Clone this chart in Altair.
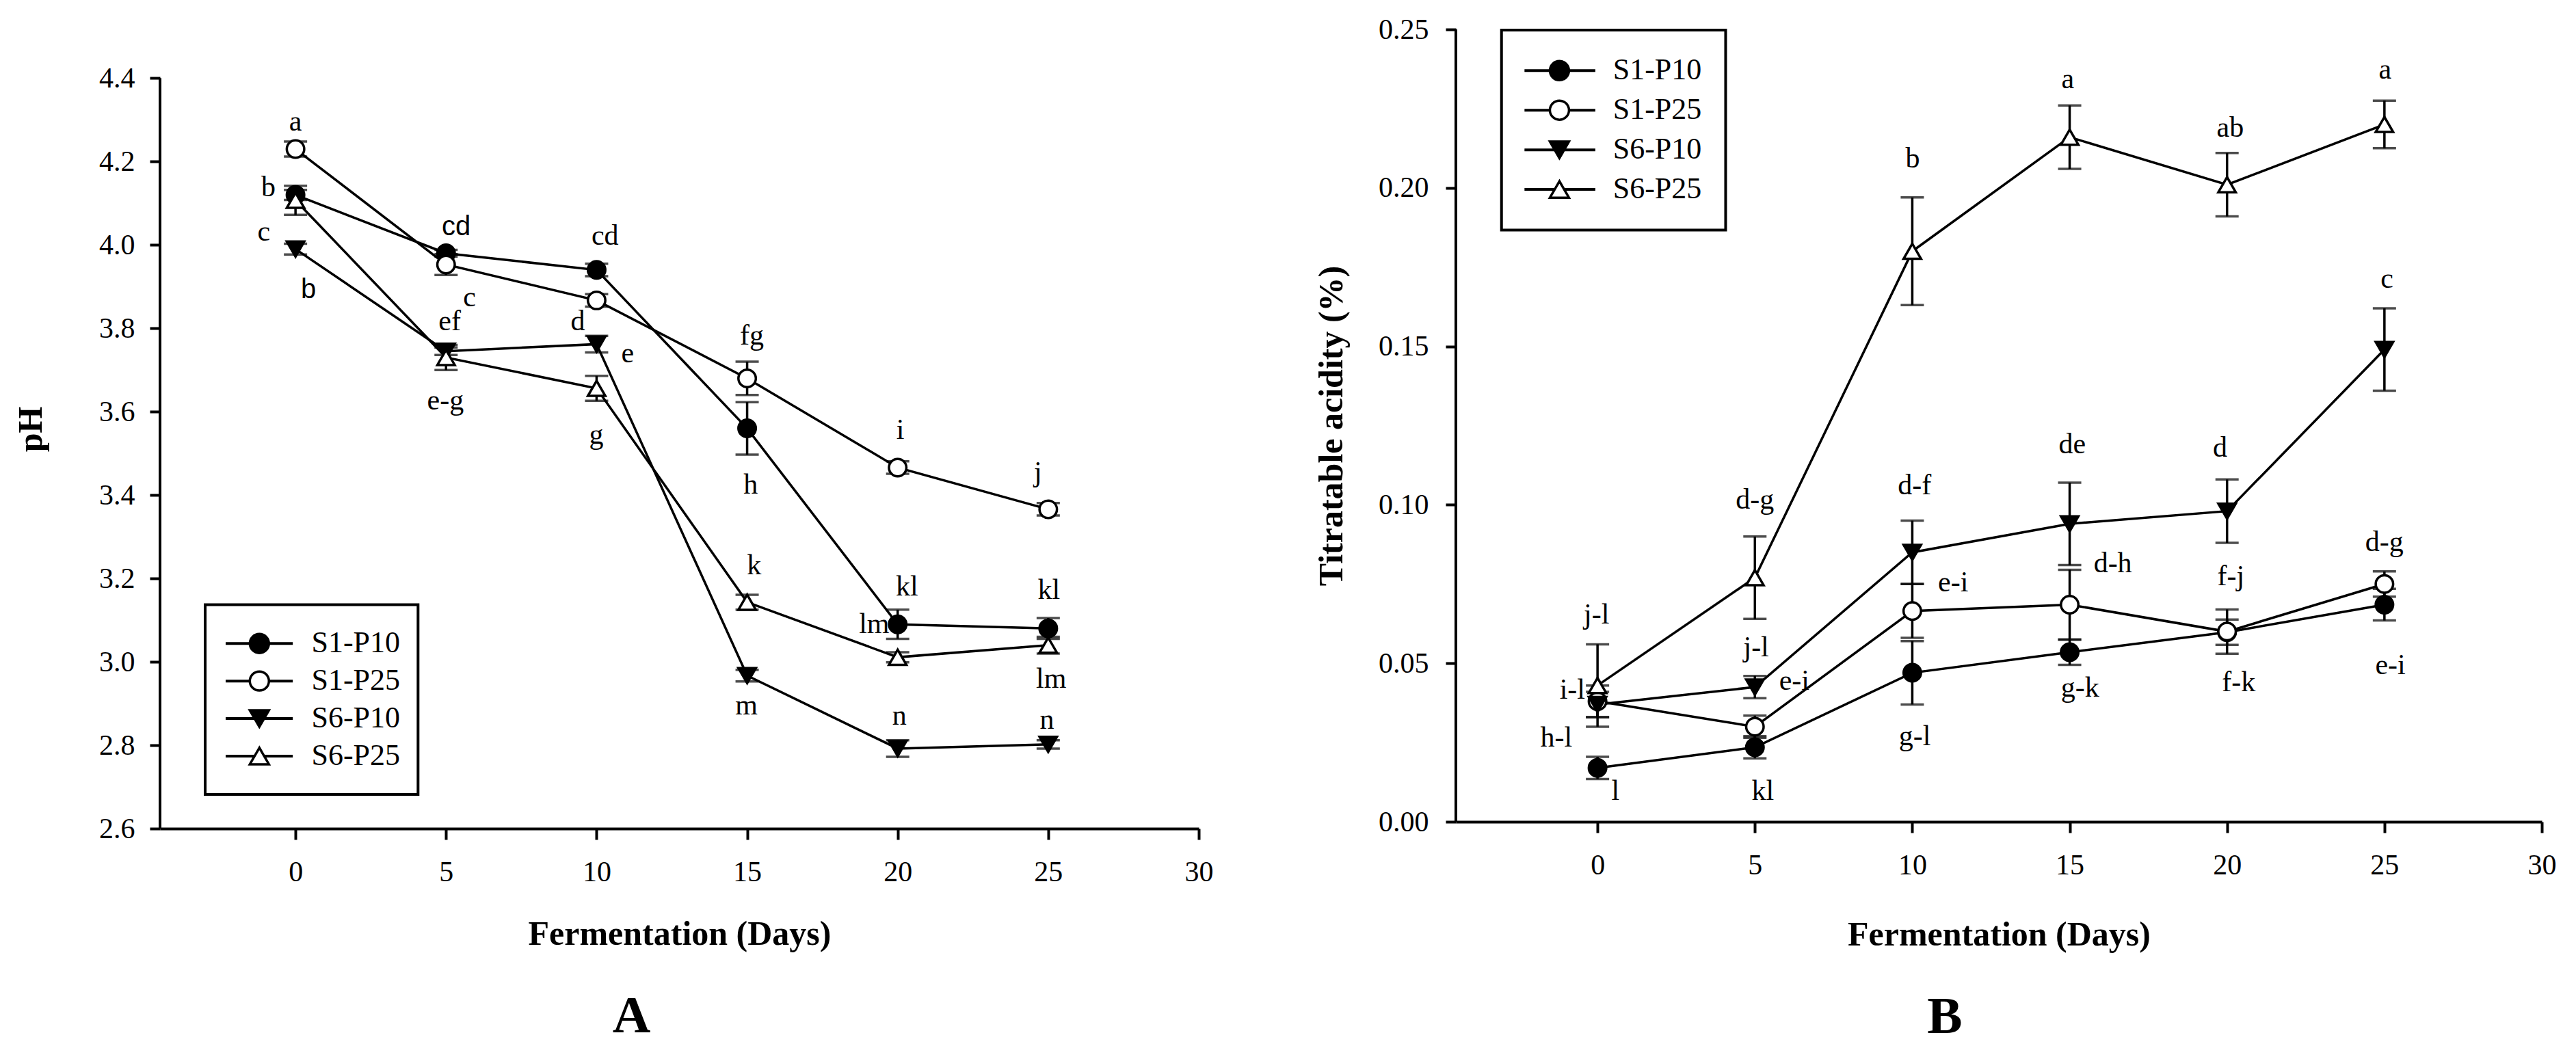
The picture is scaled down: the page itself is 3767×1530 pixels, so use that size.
import altair as alt
import pandas as pd

SERIF = "Liberation Serif"
SANS = "Liberation Sans"

# ---------------------------------------------------------------- data
days = [0, 5, 10, 15, 20, 25]
series = ["S1-P10", "S1-P25", "S6-P10", "S6-P25"]
shapes = ["circle", "circle", "triangle-down", "triangle-up"]
fills = ["black", "white", "black", "white"]

# pH (mean and standard error)
ph_s1p10 = [4.12, 3.98, 3.94, 3.56, 3.09, 3.08]
ph_s1p25 = [4.23, 3.953, 3.867, 3.68, 3.466, 3.366]
ph_s6p10 = [3.99, 3.745, 3.762, 2.967, 2.792, 2.802]
ph_s6p25 = [4.107, 3.73, 3.656, 3.143, 3.011, 3.04]

ph_se_s1p10 = [0.012, 0.008, 0.015, 0.063, 0.035, 0.025]
ph_se_s1p25 = [0.018, 0.025, 0.015, 0.04, 0.015, 0.015]
ph_se_s6p10 = [0.013, 0.009, 0.02, 0.014, 0.02, 0.01]
ph_se_s6p25 = [0.035, 0.03, 0.03, 0.018, 0.012, 0.02]

# Titratable acidity, % (mean and standard error)
ta_s1p10 = [0.017, 0.0235, 0.047, 0.0535, 0.0598, 0.0685]
ta_s1p25 = [0.038, 0.030, 0.0665, 0.0685, 0.060, 0.075]
ta_s6p10 = [0.037, 0.0425, 0.085, 0.094, 0.098, 0.149]
ta_s6p25 = [0.043, 0.077, 0.180, 0.216, 0.201, 0.220]

ta_se_s1p10 = [0.0035, 0.0035, 0.01, 0.004, 0.004, 0.005]
ta_se_s1p25 = [0.005, 0.0035, 0.0085, 0.011, 0.007, 0.004]
ta_se_s6p10 = [0.004, 0.0035, 0.01, 0.013, 0.01, 0.013]
ta_se_s6p25 = [0.013, 0.013, 0.017, 0.01, 0.01, 0.0075]

# Significance letters (text, day position, value position)
ph_letters = ["a", "b", "c", "b", "cd", "c", "ef", "e-g", "cd", "d", "e", "g",
              "fg", "h", "k", "m", "i", "kl", "lm", "n", "j", "kl", "lm", "n"]
ph_letter_day = [0.0, -0.9, -1.05, 0.43, 5.34, 5.78, 5.12, 4.98, 10.28, 9.38, 11.03, 9.99,
                 15.16, 15.12, 15.23, 14.98, 20.09, 20.31, 19.22, 20.06, 24.66, 25.02, 25.1, 24.96]
ph_letter_val = [4.295, 4.138, 4.032, 3.893, 4.043, 3.874, 3.816, 3.626, 4.021, 3.816, 3.739, 3.545,
                 3.783, 3.425, 3.231, 2.895, 3.556, 3.181, 3.091, 2.870, 3.454, 3.172, 2.959, 2.861]
ph_sans = [3, 4]

ta_letters = ["j-l", "i-l", "h-l", "l", "d-g", "j-l", "e-i", "kl", "b", "d-f", "e-i", "g-l",
              "a", "de", "d-h", "g-k", "ab", "d", "f-j", "f-k", "a", "c", "d-g", "e-i"]
ta_letter_day = [-0.03, -0.8, -1.31, 0.57, 5.0, 5.04, 6.25, 5.25, 10.01, 10.07, 11.3, 10.08,
                 14.94, 15.08, 16.37, 15.33, 20.1, 19.78, 20.12, 20.37, 25.02, 25.08, 25.0, 25.19]
ta_letter_val = [0.0653, 0.0416, 0.0265, 0.0096, 0.1017, 0.055, 0.0444, 0.0096, 0.2093, 0.1062, 0.0755, 0.0269,
                 0.2343, 0.119, 0.0815, 0.0422, 0.2189, 0.118, 0.0774, 0.0439, 0.2372, 0.1712, 0.0883, 0.0495]
ta_sans = []

x_ticks = [0, 5, 10, 15, 20, 25, 30]
ph_ticks = [2.6, 2.8, 3.0, 3.2, 3.4, 3.6, 3.8, 4.0, 4.2, 4.4]
ta_ticks = [0.0, 0.05, 0.10, 0.15, 0.20, 0.25]

# ---------------------------------------------------------------- layout
X_DOMAIN = [-4.5, 30]
LEGEND_A = dict(line=(-2.32, -0.09), sym=-1.2, text=0.53,
                rows=[3.044, 2.954, 2.864, 2.774], box_x=(-3.0, 4.07), box_y=(2.682, 3.137))
LEGEND_B = dict(line=(-2.32, -0.07), sym=-1.21, text=0.49,
                rows=[0.2370, 0.2245, 0.2120, 0.1995], box_x=(-3.05, 4.07), box_y=(0.1867, 0.2498))

shape_scale = alt.Scale(domain=series, range=shapes)
fill_scale = alt.Scale(domain=series, range=fills)


def long_table(means, ses):
    rows = []
    for s, m_list, e_list in zip(series, means, ses):
        for d, m, e in zip(days, m_list, e_list):
            rows.append({"series": s, "day": d, "value": m, "lo": m - e, "hi": m + e})
    return pd.DataFrame(rows)


def panel(df, letters, letter_day, letter_val, sans_idx, legend, y_domain, y_axis_span, y_ticks,
          y_fmt, y_title, y_label_pad, y_title_pad, x_title_pad, width, height, tag, tag_dx):
    # the y scale may reach above the drawn axis line; the axis line is drawn as a rule
    x_axis = alt.Axis(values=x_ticks, title="Fermentation (Days)", tickSize=16,
                      labelPadding=27, titlePadding=x_title_pad, labelFlush=False, grid=False)
    y_axis = alt.Axis(values=y_ticks, format=y_fmt, title=y_title, tickSize=15,
                      labelPadding=y_label_pad, titlePadding=y_title_pad, labelFlush=False,
                      grid=False, domain=False)
    xs = alt.Scale(domain=X_DOMAIN, nice=False, zero=False)
    ys = alt.Scale(domain=y_domain, nice=False, zero=False)

    def X(field):
        return alt.X(f"{field}:Q", scale=xs, axis=x_axis)

    def Y(field):
        return alt.Y(f"{field}:Q", scale=ys, axis=y_axis)

    axis_line = pd.DataFrame({"x": [X_DOMAIN[0]], "y0": [y_axis_span[0]], "y1": [y_axis_span[1]]})
    spine = alt.Chart(axis_line).mark_rule(color="black", strokeWidth=4).encode(
        x=X("x"), y=Y("y0"), y2="y1")

    base = alt.Chart(df)
    bars = base.mark_rule(color="black", strokeWidth=3.5).encode(x=X("day"), y=Y("lo"), y2="hi")
    cap_lo = base.mark_tick(orient="horizontal", size=34, thickness=3.5, color="black").encode(
        x=X("day"), y=Y("lo"))
    cap_hi = base.mark_tick(orient="horizontal", size=34, thickness=3.5, color="black").encode(
        x=X("day"), y=Y("hi"))
    lines = base.mark_line(color="black", strokeWidth=3.5).encode(
        x=X("day"), y=Y("value"), detail="series:N", order="day:Q")
    points = base.mark_point(filled=True, stroke="black", strokeWidth=3.5, opacity=1,
                             fillOpacity=1, size=650).encode(
        x=X("day"), y=Y("value"),
        shape=alt.Shape("series:N", scale=shape_scale, legend=None),
        fill=alt.Fill("series:N", scale=fill_scale, legend=None))

    lab = pd.DataFrame({"label": letters, "day": letter_day, "val": letter_val})
    lab["sans"] = [i in sans_idx for i in range(len(letters))]
    serif_txt = alt.Chart(lab[~lab["sans"]]).mark_text(
        font=SERIF, fontSize=42, baseline="middle", align="center", color="black").encode(
        x=X("day"), y=Y("val"), text="label:N")
    layers = [spine, bars, cap_lo, cap_hi, lines, points, serif_txt]
    if lab["sans"].any():
        layers.append(alt.Chart(lab[lab["sans"]]).mark_text(
            font=SANS, fontSize=40, baseline="middle", align="center", color="black").encode(
            x=X("day"), y=Y("val"), text="label:N"))

    # key drawn inside the plot
    leg = pd.DataFrame({"series": series, "y": legend["rows"],
                        "x0": legend["line"][0], "x1": legend["line"][1],
                        "xs": legend["sym"], "xt": legend["text"]})
    box = pd.DataFrame({"x0": [legend["box_x"][0]], "x1": [legend["box_x"][1]],
                        "y0": [legend["box_y"][0]], "y1": [legend["box_y"][1]]})
    layers += [
        alt.Chart(box).mark_rect(fillOpacity=0, stroke="black", strokeWidth=4).encode(
            x=X("x0"), x2="x1", y=Y("y0"), y2="y1"),
        alt.Chart(leg).mark_rule(color="black", strokeWidth=4).encode(
            x=X("x0"), x2="x1", y=Y("y")),
        alt.Chart(leg).mark_point(filled=True, stroke="black", strokeWidth=3.5, opacity=1,
                                  fillOpacity=1, size=780).encode(
            x=X("xs"), y=Y("y"),
            shape=alt.Shape("series:N", scale=shape_scale, legend=None),
            fill=alt.Fill("series:N", scale=fill_scale, legend=None)),
        alt.Chart(leg).mark_text(font=SERIF, fontSize=44, baseline="middle", align="left",
                                 color="black").encode(x=X("xt"), y=Y("y"), text="series:N"),
    ]

    return alt.layer(*layers).properties(
        width=width, height=height,
        title=alt.TitleParams(tag, orient="bottom", frame="group", anchor="middle", dx=tag_dx,
                              offset=58, fontSize=77, font=SERIF, fontWeight="bold",
                              color="black"))


ph_df = long_table([ph_s1p10, ph_s1p25, ph_s6p10, ph_s6p25],
                   [ph_se_s1p10, ph_se_s1p25, ph_se_s6p10, ph_se_s6p25])
ta_df = long_table([ta_s1p10, ta_s1p25, ta_s6p10, ta_s6p25],
                   [ta_se_s1p10, ta_se_s1p25, ta_se_s6p10, ta_se_s6p25])

chart_a = panel(ph_df, ph_letters, ph_letter_day, ph_letter_val, ph_sans, LEGEND_A,
                [2.6, 4.517], [2.6, 4.4], ph_ticks, ".1f", "pH", 22, 74, 45, 1519, 1169,
                "A", -70)
chart_b = panel(ta_df, ta_letters, ta_letter_day, ta_letter_val, ta_sans, LEGEND_B,
                [0, 0.25], [0, 0.25], ta_ticks, ".2f", "Titratable acidity (%)", 25, 43, 56,
                1588, 1159, "B", -79)

chart = alt.hconcat(chart_a, chart_b, spacing=148).properties(
    padding={"left": 20, "top": 22, "right": 5, "bottom": 5},
    background="white",
).configure_view(stroke=None).configure_axis(
    grid=False, domainColor="black", tickColor="black", labelColor="black", titleColor="black",
    domainWidth=4, tickWidth=4, labelFont=SERIF, titleFont=SERIF, labelFontSize=42,
    titleFontSize=50, titleFontWeight="bold"
)

chart.save("out.html", embed_options={"renderer": "svg", "actions": False})
